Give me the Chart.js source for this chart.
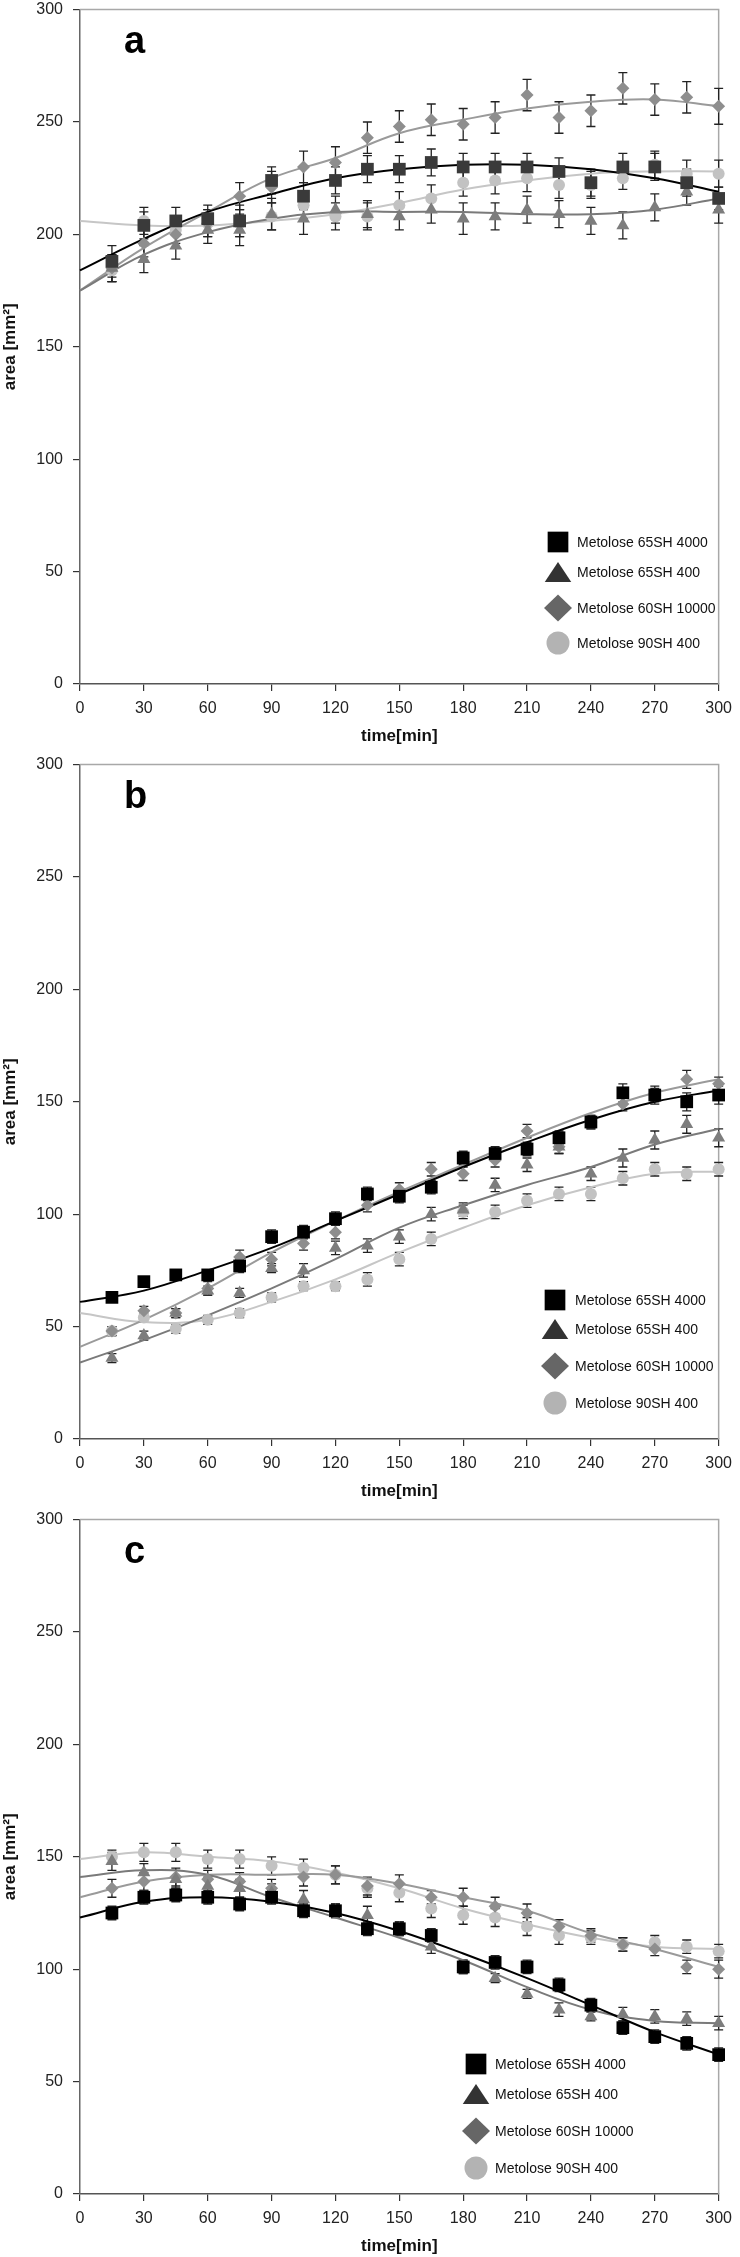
<!DOCTYPE html>
<html>
<head>
<meta charset="utf-8">
<script src="https://cdn.jsdelivr.net/npm/chart.js@4.4.1/dist/chart.umd.min.js"></script>
<style>
  body { margin: 0; background: #fff; }
  #page { position: relative; width: 740px; height: 2257px; overflow: hidden; }
  canvas { position: absolute; left: 0; }
</style>
</head>
<body>
<div id="page">
  <canvas id="chartA" width="740" height="757" style="top:-10px"></canvas>
  <canvas id="chartB" width="740" height="757" style="top:745px"></canvas>
  <canvas id="chartC" width="740" height="757" style="top:1500px"></canvas>
</div>
<script>
var times = [15, 30, 45, 60, 75, 90, 105, 120, 135, 150, 165, 180, 195, 210, 225, 240, 255, 270, 285, 300];
var fitTimes = [0, 30, 60, 90, 120, 150, 180, 210, 240, 270, 300];
var seriesNames = ['Metolose 65SH 4000', 'Metolose 65SH 400', 'Metolose 60SH 10000', 'Metolose 90SH 400'];

// panel a
var a65SH4000 = [188, 204, 206, 207, 206, 224, 217, 224, 229, 229, 232, 230, 230, 230, 228, 223, 230, 230, 223, 216];
var a65SH400 = [185, 189, 195, 202, 202, 209, 207, 211, 209, 208, 211, 207, 208, 211, 209, 206, 204, 212, 219, 211];
var a60SH10000 = [185, 196, 200, 205, 217, 221, 230, 232, 243, 248, 251, 249, 252, 262, 252, 255, 265, 260, 261, 257];
var a90SH400 = [184, 206, 202, 205, 205, 208, 213, 208, 208, 213, 216, 223, 224, 225, 222, 222, 225, 231, 227, 227];
var a65SH4000Err = [7, 6, 6, 6, 7, 6, 6, 6, 6, 6, 6, 6, 6, 6, 6, 6, 6, 6, 6, 5];
var a65SH400Err = [6, 6, 6, 6, 7, 7, 7, 6, 6, 6, 6, 7, 6, 6, 6, 6, 6, 6, 6, 6];
var a60SH10000Err = [6, 6, 6, 6, 6, 7, 7, 7, 7, 7, 7, 7, 7, 7, 7, 7, 7, 7, 7, 8];
var a90SH400Err = [5, 6, 6, 6, 6, 6, 6, 6, 6, 6, 6, 6, 6, 6, 6, 6, 5, 6, 6, 6];
var aFit65SH4000 = [184, 198, 210, 218, 225, 229, 231, 231, 229, 225, 219];
var aFit65SH400 = [175, 191, 201, 207, 210, 210, 210, 209, 209, 211, 216];
var aFit60SH10000 = [175, 194, 210, 225, 234, 245, 251, 256, 259, 260, 257];
var aFit90SH400 = [206, 204, 204, 206, 209, 214, 220, 224, 227, 228, 228];

// panel b
var b65SH4000 = [63, 70, 73, 73, 77, 90, 92, 98, 109, 108, 112, 125, 127, 129, 134, 141, 154, 153, 150, 153];
var b65SH400 = [36, 46, 56, 66, 65, 76, 75, 85, 86, 90, 100, 102, 113, 122, 130, 118, 125, 133, 140, 134];
var b60SH10000 = [48, 57, 56, 67, 81, 80, 87, 92, 104, 111, 120, 118, 124, 137, 130, 141, 149, 153, 160, 158];
var b90SH400 = [48, 54, 49, 53, 56, 63, 68, 68, 71, 80, 89, 101, 101, 106, 109, 109, 116, 120, 118, 120];
var b65SH4000Err = [2, 2, 2, 2, 3, 3, 3, 3, 3, 3, 3, 3, 3, 3, 3, 3, 4, 4, 4, 4];
var b65SH400Err = [2, 2, 2, 2, 2, 2, 3, 3, 3, 3, 3, 3, 3, 3, 3, 3, 4, 4, 4, 4];
var b60SH10000Err = [2, 2, 2, 3, 3, 3, 3, 3, 3, 3, 3, 3, 3, 3, 3, 3, 3, 3, 4, 3];
var b90SH400Err = [2, 2, 2, 2, 2, 2, 2, 2, 3, 3, 3, 3, 3, 3, 3, 3, 3, 3, 3, 3];
var bFit65SH4000 = [61, 66, 75, 85, 97, 109, 121, 132, 142, 150, 155];
var bFit65SH400 = [34, 44, 55, 67, 80, 94, 104, 113, 121, 131, 138];
var bFit60SH10000 = [41, 53, 67, 83, 97, 110, 122, 134, 145, 154, 160];
var bFit90SH400 = [56, 52, 53, 61, 71, 83, 94, 104, 112, 118, 119];

// panel c
var c65SH4000 = [125, 132, 133, 132, 129, 132, 126, 126, 118, 118, 115, 101, 103, 101, 93, 84, 74, 70, 67, 62];
var c65SH400 = [148, 143, 140, 137, 136, 134, 131, 126, 124, 118, 110, 101, 96, 89, 82, 79, 80, 79, 78, 76];
var c60SH10000 = [136, 139, 141, 140, 139, 136, 141, 142, 137, 138, 132, 132, 128, 125, 119, 115, 111, 109, 101, 100];
var c90SH400 = [150, 152, 152, 149, 149, 146, 145, 142, 136, 134, 127, 124, 123, 119, 115, 114, 111, 112, 110, 108];
var c65SH4000Err = [3, 3, 3, 3, 3, 3, 3, 3, 3, 3, 3, 3, 3, 3, 3, 3, 3, 3, 3, 3];
var c65SH400Err = [4, 4, 4, 4, 4, 4, 4, 3, 4, 3, 3, 3, 2, 2, 3, 2, 3, 3, 3, 3];
var c60SH10000Err = [4, 4, 4, 4, 4, 4, 4, 4, 4, 4, 3, 4, 4, 4, 3, 3, 3, 3, 3, 4];
var c90SH400Err = [3, 4, 4, 4, 4, 4, 4, 4, 4, 4, 4, 4, 4, 4, 4, 3, 3, 3, 3, 3];
var cFit65SH4000 = [123, 130, 132, 130, 125, 117, 107, 96, 84, 72, 62];
var cFit65SH400 = [141, 144, 142, 132, 123, 114, 104, 92, 82, 77, 76];
var cFit60SH10000 = [132, 139, 142, 142, 142, 138, 132, 126, 116, 109, 101];
var cFit90SH400 = [149, 152, 150, 148, 143, 136, 127, 120, 114, 110, 109];

var fontFamily = "'Liberation Sans', Arial, Helvetica, sans-serif";
Chart.defaults.font.family = fontFamily;

// marker look of each series
var markers = [
    { style: 'rect', radius: 9, line: '#000000', legend: '#000000', lw: 2, lh: 20.7 },
    { style: 'triangle', radius: 7.5, color: '#7d7d7d', line: '#7a7a7a', legend: '#333333', lw: 26.5, lh: 20 },
    { style: 'rectRot', radius: 6.5, color: '#8e8e8e', line: '#9a9a9a', legend: '#666666', lw: 28, lh: 27 },
    { style: 'circle', radius: 6, color: '#c2c2c2', line: '#c6c6c6', legend: '#b3b3b3', lw: 23, lh: 23 }
];

function toPoints(xs, ys) {
    return xs.map(function (x, i) { return { x: x, y: ys[i] }; });
}

var framePlugin = {
    id: 'frame',
    beforeDatasetsDraw: function (chart) {
        var a = chart.chartArea, ctx = chart.ctx;
        ctx.save();
        ctx.strokeStyle = '#a8a8a8';
        ctx.lineWidth = 1.5;
        ctx.beginPath();
        ctx.moveTo(a.left, a.top);
        ctx.lineTo(a.right, a.top);
        ctx.lineTo(a.right, a.bottom);
        ctx.stroke();
        ctx.restore();
    }
};

var errorBarPlugin = {
    id: 'errorBars',
    beforeDatasetsDraw: function (chart) {
        var ctx = chart.ctx, xs = chart.scales.x, ys = chart.scales.y;
        ctx.save();
        ctx.strokeStyle = '#222';
        ctx.lineWidth = 1.3;
        chart.data.datasets.forEach(function (ds) {
            if (!ds.errors) return;
            ds.data.forEach(function (p, i) {
                var x = xs.getPixelForValue(p.x);
                var top = ys.getPixelForValue(p.y + ds.errors[i]);
                var bot = ys.getPixelForValue(p.y - ds.errors[i]);
                ctx.beginPath();
                ctx.moveTo(x, top); ctx.lineTo(x, bot);
                ctx.moveTo(x - 4.5, top); ctx.lineTo(x + 4.5, top);
                ctx.moveTo(x - 4.5, bot); ctx.lineTo(x + 4.5, bot);
                ctx.stroke();
            });
        });
        ctx.restore();
    }
};

function drawMarker(ctx, m, x, y) {
    ctx.fillStyle = m.legend;
    ctx.beginPath();
    if (m.style === 'rect') {
        ctx.rect(x - m.lh / 2, y - m.lh / 2, m.lh, m.lh);
    } else if (m.style === 'triangle') {
        ctx.moveTo(x, y - m.lh / 2);
        ctx.lineTo(x + m.lw / 2, y + m.lh / 2);
        ctx.lineTo(x - m.lw / 2, y + m.lh / 2);
        ctx.closePath();
    } else if (m.style === 'rectRot') {
        ctx.moveTo(x, y - m.lh / 2);
        ctx.lineTo(x + m.lw / 2, y);
        ctx.lineTo(x, y + m.lh / 2);
        ctx.lineTo(x - m.lw / 2, y);
        ctx.closePath();
    } else {
        ctx.arc(x, y, m.lw / 2, 0, Math.PI * 2);
    }
    ctx.fill();
}

var decorPlugin = {
    id: 'decor',
    afterDraw: function (chart) {
        var o = chart.options.plugins.decor, ctx = chart.ctx, a = chart.chartArea;
        ctx.save();
        // panel letter
        ctx.fillStyle = '#000';
        ctx.font = 'bold 38px ' + fontFamily;
        ctx.textBaseline = 'alphabetic';
        ctx.fillText(o.letter, 124, a.top + 43);
        // legend
        ctx.font = '14px ' + fontFamily;
        ctx.textBaseline = 'middle';
        seriesNames.forEach(function (name, i) {
            var y = a.bottom + o.rows[i];
            drawMarker(ctx, markers[i], o.markerX, y);
            ctx.fillStyle = '#111';
            ctx.fillText(name, o.textX, y + 1);
        });
        ctx.restore();
    }
};

function createPanel(canvasId, decor, squareColor, values, errors, fits) {
    var datasets = [];
    values.forEach(function (vals, i) {
        var m = markers[i];
        datasets.push({
            label: seriesNames[i],
            data: toPoints(times, vals),
            errors: errors[i],
            showLine: false,
            pointStyle: m.style,
            pointRadius: m.radius,
            pointBorderWidth: 0,
            pointBackgroundColor: i === 0 ? squareColor : m.color,
            backgroundColor: i === 0 ? squareColor : m.color,
            order: 1,
            clip: false
        });
    });
    fits.forEach(function (vals, i) {
        datasets.push({
            label: seriesNames[i] + ' fit',
            data: toPoints(fitTimes, vals),
            showLine: true,
            tension: 0.4,
            borderColor: markers[i].line,
            borderWidth: 2,
            pointRadius: 0,
            order: 2,
            clip: false
        });
    });

    new Chart(document.getElementById(canvasId), {
        type: 'scatter',
        data: { datasets: datasets },
        plugins: [framePlugin, errorBarPlugin, decorPlugin],
        options: {
            responsive: false,
            animation: false,
            events: [],
            layout: { padding: { top: 17, right: 14, bottom: 0, left: 0 } },
            plugins: {
                legend: { display: false },
                tooltip: { enabled: false },
                decor: decor
            },
            scales: {
                x: {
                    type: 'linear',
                    min: 0,
                    max: 300,
                    ticks: { stepSize: 30, padding: 8, maxRotation: 0, color: '#222', font: { size: 16 } },
                    grid: { drawOnChartArea: false, drawTicks: true, tickLength: 7, color: '#333', lineWidth: 1.2 },
                    border: { color: '#555', width: 1.5 },
                    title: { display: true, text: 'time[min]', color: '#111', padding: 0, font: { size: 17, weight: 'bold' } },
                    afterFit: function (s) { s.height = 63; }
                },
                y: {
                    type: 'linear',
                    min: 0,
                    max: 300,
                    ticks: { stepSize: 50, padding: 10, color: '#222', font: { size: 16 } },
                    grid: { drawOnChartArea: false, drawTicks: true, tickLength: 7, color: '#333', lineWidth: 1.2 },
                    border: { color: '#666', width: 1.5 },
                    title: { display: true, text: 'area [mm²]', color: '#111', padding: 0, font: { size: 17, weight: 'bold' } },
                    afterFit: function (s) { s.width = 80; }
                }
            }
        }
    });
}

createPanel('chartA', { letter: 'a', markerX: 558, textX: 577, rows: [-142, -112, -76, -41] }, '#3a3a3a',
    [a65SH4000, a65SH400, a60SH10000, a90SH400],
    [a65SH4000Err, a65SH400Err, a60SH10000Err, a90SH400Err],
    [aFit65SH4000, aFit65SH400, aFit60SH10000, aFit90SH400]);

createPanel('chartB', { letter: 'b', markerX: 555, textX: 575, rows: [-139, -110, -73, -36] }, '#000000',
    [b65SH4000, b65SH400, b60SH10000, b90SH400],
    [b65SH4000Err, b65SH400Err, b60SH10000Err, b90SH400Err],
    [bFit65SH4000, bFit65SH400, bFit60SH10000, bFit90SH400]);

createPanel('chartC', { letter: 'c', markerX: 476, textX: 495, rows: [-130, -100, -63, -26] }, '#000000',
    [c65SH4000, c65SH400, c60SH10000, c90SH400],
    [c65SH4000Err, c65SH400Err, c60SH10000Err, c90SH400Err],
    [cFit65SH4000, cFit65SH400, cFit60SH10000, cFit90SH400]);
</script>
</body>
</html>
